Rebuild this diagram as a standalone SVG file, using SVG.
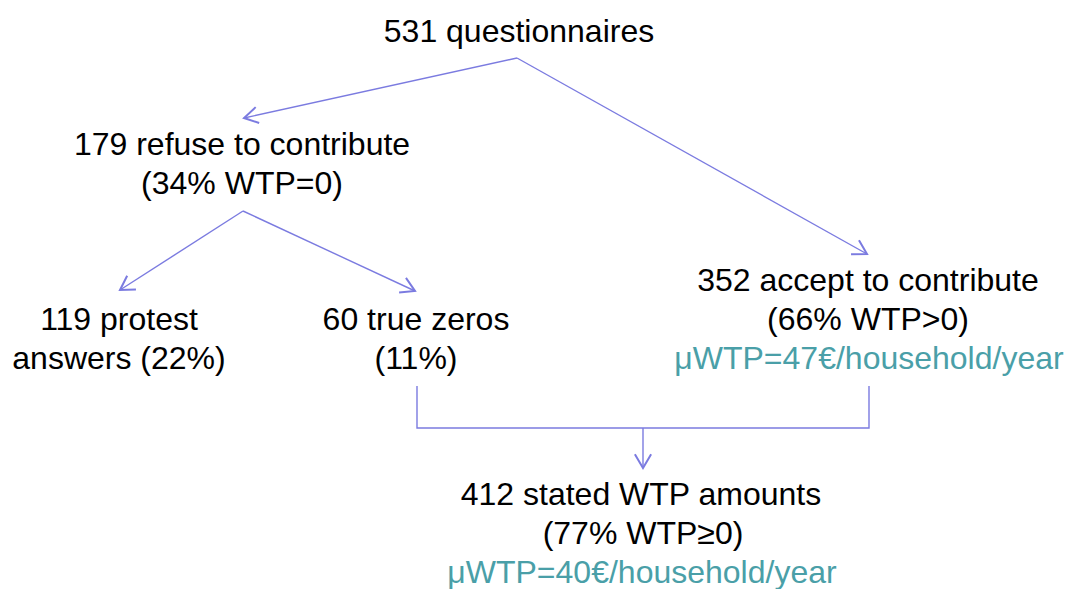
<svg xmlns="http://www.w3.org/2000/svg" width="1068" height="589" viewBox="0 0 1068 589">
<defs>
<style>
.t{font-family:"Liberation Sans",Arial,sans-serif;font-size:32px;fill:#000;text-anchor:middle}
.m{fill:#4a9fa8}
.c{fill:none;stroke:#7b7be0;stroke-width:1.4}
</style>
<marker id="ah" markerUnits="userSpaceOnUse" markerWidth="20" markerHeight="20" viewBox="-12 -8 14 16" refX="0" refY="0" orient="auto">
<path d="M-11,-6.5 L0,0 L-11,6.5" fill="none" stroke="#7b7be0" stroke-width="1.6"/>
</marker>
</defs>
<rect width="1068" height="589" fill="#fff"/>
<g id="connectors">
<path class="c" d="M517,58 L244,118" marker-end="url(#ah)"/>
<path class="c" d="M517,58 L867,254" marker-end="url(#ah)"/>
<path class="c" d="M243,211 L120,290" marker-end="url(#ah)"/>
<path class="c" d="M243,211 L415,291" marker-end="url(#ah)"/>
<path class="c" d="M417,386 L417,428 L869,428 L869,386"/>
<path class="c" d="M643,428 L643,468" marker-end="url(#ah)"/>
</g>
<g id="n-questionnaires"><text class="t" x="519" y="42">531 questionnaires</text></g>
<g id="n-refuse"><text class="t" x="242" y="155">179 refuse to contribute</text><text class="t" x="242" y="194">(34% WTP=0)</text></g>
<g id="n-protest"><text class="t" x="119" y="330">119 protest</text><text class="t" x="119" y="369">answers (22%)</text></g>
<g id="n-zeros"><text class="t" x="416" y="330">60 true zeros</text><text class="t" x="416" y="369">(11%)</text></g>
<g id="n-accept"><text class="t" x="868" y="291">352 accept to contribute</text><text class="t" x="868" y="330">(66% WTP&gt;0)</text><text class="t m" x="869" y="369">μWTP=47€/household/year</text></g>
<g id="n-stated"><text class="t" x="641" y="505">412 stated WTP amounts</text><text class="t" x="643" y="544">(77% WTP≥0)</text><text class="t m" x="642" y="583">μWTP=40€/household/year</text></g>
</svg>
